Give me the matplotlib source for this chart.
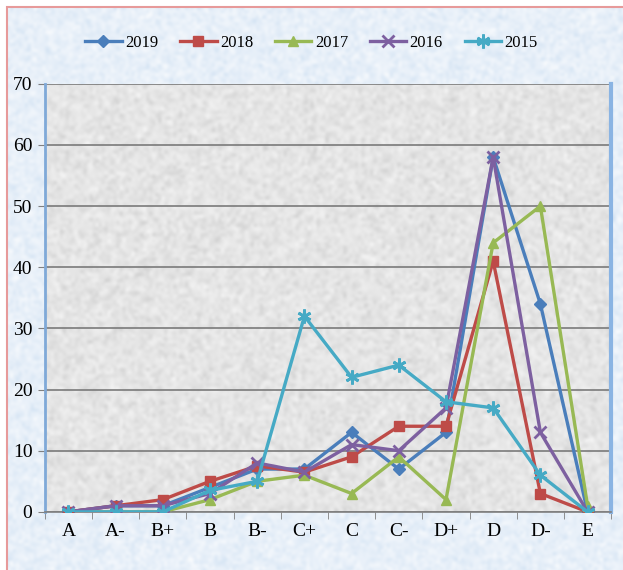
import matplotlib
matplotlib.use("Agg")
import matplotlib.pyplot as plt
from matplotlib.patches import Rectangle
import numpy as np

plt.rcParams['font.family'] = ['Liberation Serif', 'DejaVu Serif']

# Grade categories on the x axis
grades = ['A', 'A-', 'B+', 'B', 'B-', 'C+', 'C', 'C-', 'D+', 'D', 'D-', 'E']

# Number of students per grade, by year
y2019 = [0, 1, 1, 4, 7, 7, 13, 7, 13, 58, 34, 0]
y2018 = [0, 1, 2, 5, 7.5, 6.5, 9, 14, 14, 41, 3, 0]
y2017 = [0, 0, 0, 2, 5, 6, 3, 9, 2, 44, 50, 1]
y2016 = [0, 1, 1, 3, 8, 6.5, 11, 10, 17, 58, 13, 0]
y2015 = [0, 0, 0, 3.5, 5, 32, 22, 24, 18, 17, 6, 0]

years = ['2019', '2018', '2017', '2016', '2015']
series = [y2019, y2018, y2017, y2016, y2015]
colors = ['#4a7ebb', '#be4b48', '#98b954', '#7d60a0', '#46aac5']
markers = ['D', 's', '^', 'x', (6, 2, 0)]
sizes = [6, 7, 7, 8, 10]

fig = plt.figure(figsize=(6.23, 5.70), dpi=100)
fig.patch.set_facecolor('white')

# speckled textures for the chart and plot backgrounds
rng = np.random.default_rng(3)
bg = rng.normal(0, 1, (190, 210))
bg_ax = fig.add_axes([0.011, -0.01, 1.0, 0.998], zorder=-5)
bg_ax.imshow(bg, cmap=matplotlib.colors.LinearSegmentedColormap.from_list(
    'sky', ['#cddff1', '#e8f0f9', '#ffffff']), vmin=-3, vmax=3,
    aspect='auto', interpolation='bicubic')
bg_ax.set_axis_off()
fig.patches.append(Rectangle((0.011, -0.01), 1.0, 0.998, transform=fig.transFigure,
                             facecolor='none', edgecolor='#e79a9a', linewidth=1.5,
                             zorder=5))

ax = fig.add_axes([0.072, 0.102, 0.909, 0.751])
ax.set_facecolor('#e6e6e6')
tex = rng.normal(0, 1, (140, 190))
ax.imshow(tex, cmap=matplotlib.colors.LinearSegmentedColormap.from_list(
    'stone', ['#c8c8c8', '#e6e6e6', '#fbfbfb']), vmin=-3, vmax=3,
    extent=(-0.5, len(grades) - 0.5, 0, 70), aspect='auto',
    interpolation='bicubic', zorder=0)

x = np.arange(len(grades))
for vals, yr, c, m, s in zip(series, years, colors, markers, sizes):
    mew = 2 if m in ('x', (6, 2, 0)) else 1
    ax.plot(x, vals, color=c, marker=m, markersize=s, linewidth=2.4,
            markeredgewidth=mew, label=yr, zorder=3)

ax.set_xlim(-0.5, len(grades) - 0.5)
ax.set_ylim(0, 70)
ax.set_yticks(range(0, 71, 10))
ax.set_xticks(x)
ax.set_xticklabels(grades)
ax.set_xticks(np.arange(-0.5, len(grades), 1), minor=True)
ax.tick_params(axis='x', which='major', length=0, labelsize=14, pad=8)
ax.tick_params(axis='x', which='minor', length=5, color='#7f7f7f', direction='out')
ax.tick_params(axis='y', length=5, color='#7f7f7f', labelsize=14, pad=4)
ax.grid(axis='y', color='#7a7a7a', linewidth=1.2, zorder=1)

ax.spines['top'].set_visible(False)
ax.spines['left'].set_color('#7fa9d8')
ax.spines['left'].set_linewidth(2)
ax.spines['right'].set_color('#8ab4e3')
ax.spines['right'].set_linewidth(3)
ax.spines['bottom'].set_color('#7f7f7f')
ax.spines['bottom'].set_linewidth(1.2)

fig.legend(loc='center', bbox_to_anchor=(0.5, 0.925), ncol=5, frameon=False,
           fontsize=12, handlelength=2.2, handletextpad=0.2, columnspacing=1.3)

fig.savefig('out.png', dpi=100)
